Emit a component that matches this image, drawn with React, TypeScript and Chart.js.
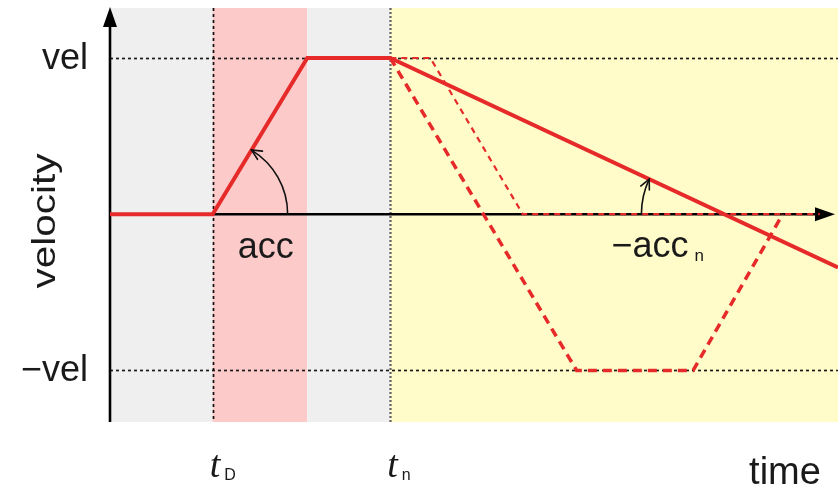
import React, { useEffect, useRef } from "react";
import { Chart, registerables } from "chart.js";

Chart.register(...registerables);

// ---- data (time units 0..100, velocity units: vel = 1) ----
const solidT = [0, 14.1, 27.1, 38.5, 100];
const solidV = [0, 0, 1, 1, -0.34];
const thinT = [38.5, 44.0, 56.7, 97.5];
const thinV = [1, 1, 0, 0];
const thickT = [38.5, 64.1, 80.1, 92.4];
const thickV = [1, -1, -1, 0];
const regionBounds = [0, 14.1, 27.1, 38.5, 100];
const yTickValues = [1, -1];
const yTickLabels = ["vel", "\u2212vel"];
const xTickValues = [14.1, 38.5];
const xTickSubs = ["D", "n"];

const X_MIN = 0;
const X_MAX = 100;
const Y_MIN = -1.33;
const Y_MAX = 1.32;

// ---- styles ----
const RED = "#e62a2a";
const REGION_COLORS = ["#efefef", "#fdcaca", "#efefef", "#fffcc9"];
const SANS = "'Liberation Sans', Arial, sans-serif";
const SERIF = "'Liberation Serif', 'Times New Roman', serif";

function arrowHead(ctx: CanvasRenderingContext2D, tx: number, ty: number, dx: number, dy: number, len: number, spread: number) {
  const ang = Math.atan2(dy, dx);
  ctx.beginPath();
  ctx.moveTo(tx - len * Math.cos(ang - spread), ty - len * Math.sin(ang - spread));
  ctx.lineTo(tx, ty);
  ctx.lineTo(tx - len * Math.cos(ang + spread), ty - len * Math.sin(ang + spread));
  ctx.stroke();
}

export default function App() {
  const ref = useRef<HTMLCanvasElement>(null);

  useEffect(() => {
    document.body.style.margin = "0";
    const pts = (xs: number[], ys: number[]) => xs.map((x, i) => ({ x, y: ys[i] }));

    const plugin = {
      id: "diagram",
      beforeDatasetsDraw(chart: any) {
        const { ctx, chartArea: a, scales } = chart;
        const xs = scales.x;
        const ys = scales.y;
        ctx.save();
        // background regions
        for (let i = 0; i < regionBounds.length - 1; i++) {
          const x0 = xs.getPixelForValue(regionBounds[i]);
          const x1 = xs.getPixelForValue(regionBounds[i + 1]);
          ctx.fillStyle = REGION_COLORS[i];
          ctx.fillRect(x0, a.top, x1 - x0, a.bottom - a.top);
        }
        // horizontal dotted lines at +/- vel
        ctx.strokeStyle = "#1a1a1a";
        ctx.lineWidth = 1.7;
        ctx.setLineDash([3, 3]);
        for (const v of yTickValues) {
          const py = Math.round(ys.getPixelForValue(v)) + 0.5;
          ctx.beginPath();
          ctx.moveTo(a.left, py);
          ctx.lineTo(a.right, py);
          ctx.stroke();
        }
        // vertical dotted lines
        xTickValues.forEach((t, i) => {
          const px = Math.round(xs.getPixelForValue(t)) + 0.5;
          ctx.strokeStyle = i === 0 ? "#111" : "#666";
          ctx.lineWidth = i === 0 ? 1.7 : 2.3;
          ctx.setLineDash(i === 0 ? [3, 3] : [2, 2]);
          ctx.beginPath();
          ctx.moveTo(px, a.top);
          ctx.lineTo(px, a.bottom);
          ctx.stroke();
        });
        ctx.setLineDash([]);
        // axes
        const ox = xs.getPixelForValue(X_MIN);
        const oy = ys.getPixelForValue(0);
        ctx.strokeStyle = "#000";
        ctx.fillStyle = "#000";
        ctx.lineWidth = 2.6;
        ctx.beginPath();
        ctx.moveTo(ox, a.bottom);
        ctx.lineTo(ox, a.top + 14);
        ctx.stroke();
        ctx.beginPath();
        ctx.moveTo(ox, a.top - 1);
        ctx.lineTo(ox - 7, a.top + 19);
        ctx.lineTo(ox + 7, a.top + 19);
        ctx.closePath();
        ctx.fill();
        const tipX = a.right - 3;
        ctx.beginPath();
        ctx.moveTo(ox, oy);
        ctx.lineTo(tipX - 12, oy);
        ctx.stroke();
        ctx.beginPath();
        ctx.moveTo(tipX, oy);
        ctx.lineTo(tipX - 20, oy - 7);
        ctx.lineTo(tipX - 20, oy + 7);
        ctx.closePath();
        ctx.fill();
        ctx.restore();
      },
      afterDatasetsDraw(chart: any) {
        const { ctx, chartArea: a, scales } = chart;
        const xs = scales.x;
        const ys = scales.y;
        ctx.save();
        ctx.strokeStyle = "#111";
        ctx.lineWidth = 1.6;
        ctx.lineCap = "round";
        // arc 1: acceleration angle at t0
        const c1x = xs.getPixelForValue(solidT[1]);
        const c1y = ys.getPixelForValue(solidV[1]);
        const e1x = xs.getPixelForValue(solidT[2]);
        const e1y = ys.getPixelForValue(solidV[2]);
        const ang1 = Math.atan2(e1y - c1y, e1x - c1x);
        const r1 = 75;
        ctx.beginPath();
        ctx.arc(c1x, c1y, r1, 0, ang1, true);
        ctx.stroke();
        arrowHead(ctx, c1x + r1 * Math.cos(ang1), c1y + r1 * Math.sin(ang1), Math.sin(ang1), -Math.cos(ang1), 11, 0.45);
        // arc 2: deceleration angle at zero crossing of solid line
        const p3x = xs.getPixelForValue(solidT[3]);
        const p3y = ys.getPixelForValue(solidV[3]);
        const p4x = xs.getPixelForValue(solidT[4]);
        const p4y = ys.getPixelForValue(solidV[4]);
        const zy = ys.getPixelForValue(0);
        const f = (p3y - zy) / (p3y - p4y);
        const c2x = p3x + f * (p4x - p3x);
        const c2y = zy;
        let ang2 = Math.atan2(p3y - c2y, p3x - c2x);
        if (ang2 < 0) ang2 += Math.PI * 2;
        const r2 = 83;
        ctx.beginPath();
        ctx.arc(c2x, c2y, r2, Math.PI, ang2, false);
        ctx.stroke();
        arrowHead(ctx, c2x + r2 * Math.cos(ang2), c2y + r2 * Math.sin(ang2), -Math.sin(ang2), Math.cos(ang2), 11, 0.45);

        // text
        ctx.fillStyle = "#1a1a1a";
        ctx.textBaseline = "alphabetic";
        ctx.font = `36px ${SANS}`;
        ctx.textAlign = "center";
        ctx.fillText("acc", c1x + 53, c1y + 44);
        ctx.textAlign = "left";
        const accnX = c2x - 113;
        ctx.fillText("\u2212acc", accnX, c2y + 43);
        const w = ctx.measureText("\u2212acc").width;
        ctx.font = `17px ${SANS}`;
        ctx.fillText("n", accnX + w + 6, c2y + 47);

        // y tick labels
        ctx.font = `36px ${SANS}`;
        ctx.textAlign = "right";
        ctx.textBaseline = "middle";
        yTickValues.forEach((v, i) => {
          ctx.fillText(yTickLabels[i], a.left - 22, ys.getPixelForValue(v) + 1);
        });
        // x tick labels
        ctx.textBaseline = "alphabetic";
        xTickValues.forEach((t, i) => {
          const px = xs.getPixelForValue(t);
          ctx.textAlign = "left";
          ctx.font = `italic 38px ${SERIF}`;
          ctx.fillText("t", px - 3, 477);
          const tw = ctx.measureText("t").width;
          ctx.font = `16px ${SANS}`;
          ctx.fillText(xTickSubs[i], px - 3 + tw + 4, 480);
        });
        // axis titles
        ctx.font = `38px ${SANS}`;
        ctx.textAlign = "center";
        ctx.fillText("time", 785, 484);
        ctx.save();
        ctx.translate(55, 221);
        ctx.rotate(-Math.PI / 2);
        ctx.scale(1.19, 1);
        ctx.font = `34px ${SANS}`;
        ctx.textBaseline = "alphabetic";
        ctx.fillText("velocity", 0, 0);
        ctx.restore();
        ctx.restore();
      },
    };

    const chart = new Chart(ref.current as HTMLCanvasElement, {
      type: "scatter",
      data: {
        datasets: [
          {
            label: "velocity",
            data: pts(solidT, solidV),
            showLine: true,
            borderColor: RED,
            borderWidth: 4,
            pointRadius: 0,
            tension: 0,
          },
          {
            label: "faster stop",
            data: pts(thickT, thickV),
            showLine: true,
            borderColor: RED,
            borderWidth: 3.5,
            borderDash: [9, 6],
            pointRadius: 0,
            tension: 0,
          },
          {
            label: "delayed stop",
            data: pts(thinT, thinV),
            showLine: true,
            borderColor: RED,
            borderWidth: 2.2,
            borderDash: [6, 5],
            pointRadius: 0,
            tension: 0,
          },
        ],
      },
      options: {
        animation: false,
        responsive: false,
        devicePixelRatio: 1,
        events: [],
        layout: { padding: { left: 110, right: 0, top: 8, bottom: 67 } },
        plugins: { legend: { display: false }, tooltip: { enabled: false } },
        scales: {
          x: { type: "linear", min: X_MIN, max: X_MAX, display: false },
          y: { type: "linear", min: Y_MIN, max: Y_MAX, display: false },
        },
      },
      plugins: [plugin],
    });
    return () => chart.destroy();
  }, []);

  return <canvas ref={ref} width={838} height={489} style={{ display: "block" }} />;
}
